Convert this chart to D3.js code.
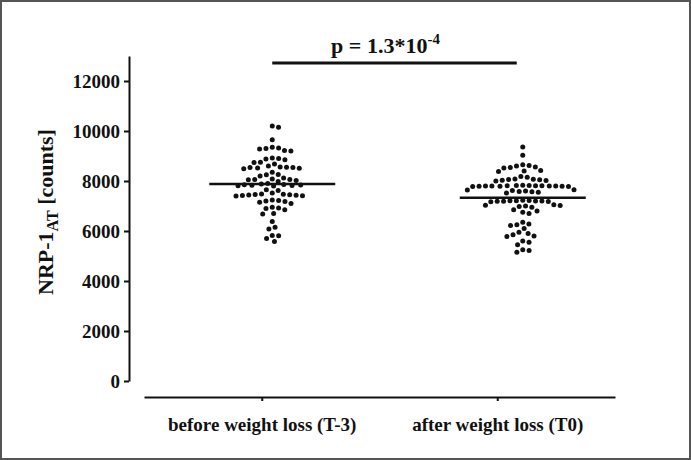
<!DOCTYPE html>
<html>
<head>
<meta charset="utf-8">
<script src="https://cdn.jsdelivr.net/npm/d3@7"></script>
<style>
  html, body { margin: 0; padding: 0; background: #fff; }
  svg { display: block; }
  text { font-family: "Liberation Serif", "Times New Roman", serif; font-weight: bold; fill: #111; }
</style>
</head>
<body>
<svg id="chart" width="691" height="460"></svg>
<script>
// ---------------- DATA ----------------
const categories = ["before weight loss (T-3)", "after weight loss (T0)"];

const beforeValues = [
  10200, 10150,
  9650,
  9350, 9320, 9280, 9220, 9200, 9300,
  8920, 8880, 8850, 8750, 8740, 8900,
  8680, 8560, 8540, 8520, 8490, 8550, 8510, 8540, 8600,
  8350,
  8250, 8120, 8080, 8020, 8060, 7980, 8050, 8060, 8200, 8260,
  7900, 7880, 7860, 7840, 7820, 7800, 7850, 7810, 7830,
  7650, 7620,
  7480, 7450, 7430, 7400, 7420, 7460, 7440, 7410, 7470, 7520,
  7220, 7150, 7200, 7180, 7100, 7240,
  6900, 6950, 6850, 6920,
  6700, 6680,
  6380,
  6150, 6080,
  5820, 5580, 5700, 5810
];

const afterValues = [
  9360, 9030,
  8650, 8600, 8620, 8560, 8540, 8520,
  8400, 8380, 8420,
  8150, 8080, 8050, 8020, 8000, 8030, 8060, 8070, 8180,
  7800, 7810, 7790, 7820, 7800, 7780, 7830, 7790, 7800, 7810, 7820, 7790, 7800, 7810, 7780,
  7550, 7620, 7580, 7650, 7520, 7570, 7640, 7600,
  7200, 7210, 7180, 7190, 7220, 7170, 7200, 7230, 7210, 7190,
  7000, 6950, 7050, 7020, 6980, 7030,
  6850, 6750, 6700, 6800,
  6350, 6280, 6250, 6220,
  6100,
  5950, 5850, 5780, 5800, 5900,
  5550, 5450, 5600,
  5250, 5150, 5220
];

const seriesValues = [beforeValues, afterValues];
const yTickValues = [0, 2000, 4000, 6000, 8000, 10000, 12000];
const yLabelMain = "NRP-1";
const yLabelSub = "AT";
const yLabelTail = " [counts]";
const pMain = "p = 1.3*10";
const pSup = "-4";

// ---------------- CHART ----------------
const W = 691, H = 460;
const svg = d3.select("#chart");

// frame
svg.append("rect")
  .attr("x", 1).attr("y", 1).attr("width", W - 2).attr("height", H - 2)
  .attr("fill", "#fff").attr("stroke", "#555").attr("stroke-width", 2);

const y = d3.scaleLinear().domain([0, 13000]).range([381, 56]);
const xAxisScale = d3.scalePoint().domain(categories).range([144, 615]).padding(0.5);
const xDots = d3.scalePoint().domain(categories).range([147, 648]).padding(0.5);

// Y axis
const yAxis = svg.append("g")
  .attr("transform", "translate(129,0)")
  .call(d3.axisLeft(y).tickValues(yTickValues).tickSize(5).tickSizeOuter(0).tickPadding(4).tickFormat(d3.format("d")));
yAxis.selectAll("path, line").attr("stroke", "#111").attr("stroke-width", 2);
yAxis.selectAll("text").attr("font-size", 19).attr("fill", "#111");

// X axis
const xAxis = svg.append("g")
  .attr("transform", "translate(0,397)")
  .call(d3.axisBottom(xAxisScale).tickSize(4).tickSizeOuter(0).tickPadding(17));
xAxis.selectAll("path, line").attr("stroke", "#111").attr("stroke-width", 2);
xAxis.selectAll("text").attr("font-size", 19).attr("fill", "#111");

// Y label
const yl = svg.append("text")
  .attr("transform", "translate(53,212) rotate(-90)")
  .attr("text-anchor", "middle")
  .attr("font-size", 22);
yl.append("tspan").text(yLabelMain);
yl.append("tspan").attr("font-size", 16).attr("dy", 5).text(yLabelSub);
yl.append("tspan").attr("dy", -5).text(yLabelTail);

// Beeswarm layout
const R = 2.5, D = 6.4;
function swarm(values) {
  const pts = values.map(v => ({ v, py: y(v) })).sort((a, b) => b.v - a.v);
  const placed = [];
  for (const p of pts) {
    const cands = [0];
    for (const q of placed) {
      const dy = Math.abs(q.py - p.py);
      if (dy < D) {
        const dx = Math.sqrt(D * D - dy * dy);
        cands.push(q.dx + dx, q.dx - dx);
      }
    }
    cands.sort((a, b) => Math.abs(a) - Math.abs(b));
    for (const c of cands) {
      if (placed.every(q => (q.dx - c) ** 2 + (q.py - p.py) ** 2 >= D * D - 1e-6)) { p.dx = c; break; }
    }
    placed.push(p);
  }
  return placed;
}

categories.forEach((cat, i) => {
  const cx = xDots(cat);
  const pts = swarm(seriesValues[i]);
  svg.append("g").selectAll("circle").data(pts).join("circle")
    .attr("cx", d => cx + d.dx)
    .attr("cy", d => d.py)
    .attr("r", R)
    .attr("fill", "#111");
  const m = d3.mean(seriesValues[i]);
  svg.append("line")
    .attr("x1", cx - 63).attr("x2", cx + 63)
    .attr("y1", y(m)).attr("y2", y(m))
    .attr("stroke", "#111").attr("stroke-width", 2.5);
});

// significance bracket
const bx1 = xDots(categories[0]), bx2 = xDots(categories[1]) - 6;
svg.append("line")
  .attr("x1", bx1).attr("x2", bx2).attr("y1", 63).attr("y2", 63)
  .attr("stroke", "#111").attr("stroke-width", 3);
const pt = svg.append("text")
  .attr("x", (bx1 + bx2) / 2 - 9).attr("y", 53)
  .attr("text-anchor", "middle")
  .attr("font-size", 22);
pt.append("tspan").text(pMain);
pt.append("tspan").attr("font-size", 15).attr("dy", -9).text(pSup);
</script>
</body>
</html>
